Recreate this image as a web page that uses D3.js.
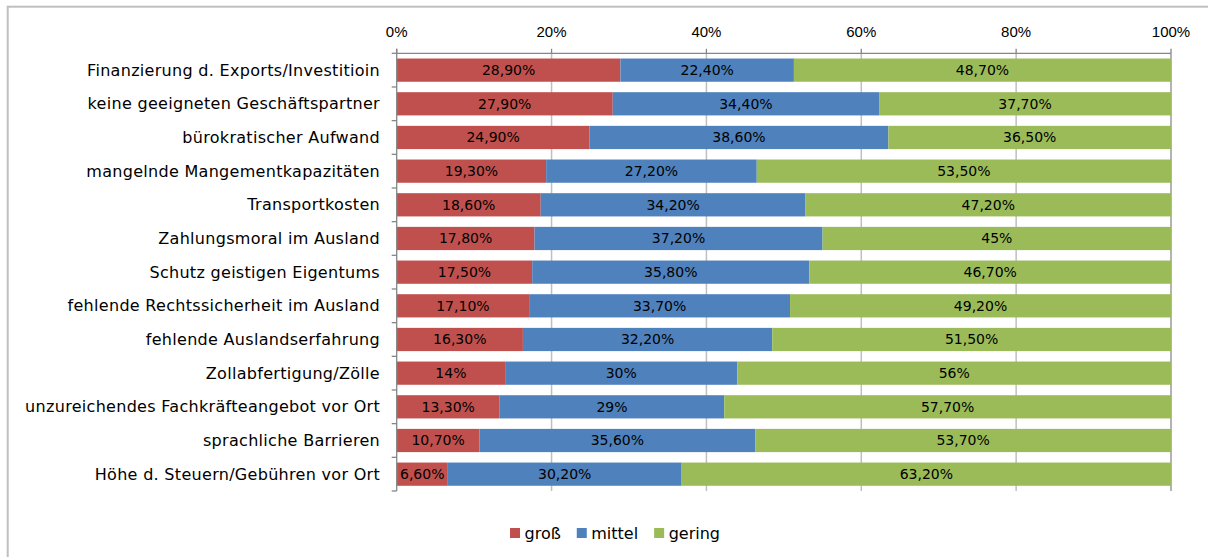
<!DOCTYPE html>
<html>
<head>
<meta charset="utf-8">
<script src="https://cdn.jsdelivr.net/npm/d3@7"></script>
<style>
  body { margin: 0; background: #fff; }
  .cat { font-family: "DejaVu Sans", sans-serif; font-size: 16px; letter-spacing: 0.3px; fill: #000; }
  .tick-label { font-family: "Liberation Sans", Arial, sans-serif; font-size: 15px; fill: #000; }
  .val { font-family: "DejaVu Sans", sans-serif; font-size: 14px; fill: #000; }
  .leg { font-family: "DejaVu Sans", sans-serif; font-size: 16px; fill: #000; }
</style>
</head>
<body>
<div id="chart"></div>
<script>
const categories = [
  "Finanzierung d. Exports/Investitioin",
  "keine geeigneten Geschäftspartner",
  "bürokratischer Aufwand",
  "mangelnde Mangementkapazitäten",
  "Transportkosten",
  "Zahlungsmoral im Ausland",
  "Schutz geistigen Eigentums",
  "fehlende Rechtssicherheit im Ausland",
  "fehlende Auslandserfahrung",
  "Zollabfertigung/Zölle",
  "unzureichendes Fachkräfteangebot vor Ort",
  "sprachliche Barrieren",
  "Höhe d. Steuern/Gebühren vor Ort"
];
const gross  = [28.9, 27.9, 24.9, 19.3, 18.6, 17.8, 17.5, 17.1, 16.3, 14, 13.3, 10.7, 6.6];
const mittel = [22.4, 34.4, 38.6, 27.2, 34.2, 37.2, 35.8, 33.7, 32.2, 30, 29, 35.6, 30.2];
const gering = [48.7, 37.7, 36.5, 53.5, 47.2, 45, 46.7, 49.2, 51.5, 56, 57.7, 53.7, 63.2];
const seriesNames = ["groß", "mittel", "gering"];
const ticks = [0, 20, 40, 60, 80, 100];

const colours = { "groß": "#C0504D", "mittel": "#4F81BD", "gering": "#9BBB59" };

const width = 1208;
const height = 557;

const svg = d3.select("#chart")
              .append("svg")
              .attr("width", width)
              .attr("height", height);

// chart area frame (runs off the right and bottom edge like in the screenshot)
svg.append("rect")
   .attr("x", 7.7)
   .attr("y", 6.7)
   .attr("width", 1300)
   .attr("height", 700)
   .attr("fill", "none")
   .attr("stroke", "#bfbfbf")
   .attr("stroke-width", 2);

const rows = categories.map((c, i) => ({ cat: c, "groß": gross[i], "mittel": mittel[i], "gering": gering[i] }));

const plotTop = 53.3, plotBottom = 491;

const x = d3.scaleLinear().domain([0, 100]).range([396.7, 1171]);
const y = d3.scaleBand().domain(categories).range([plotTop, plotBottom]).paddingInner(0.31).paddingOuter(0.155);

// vertical gridlines
svg.append("g")
   .selectAll("line")
   .data(ticks.slice(1))
   .enter()
   .append("line")
   .attr("x1", d => x(d)).attr("x2", d => x(d))
   .attr("y1", plotTop).attr("y2", plotBottom)
   .attr("stroke", d => d === 100 ? "#9a9a9a" : "#bfbfbf")
   .attr("stroke-width", 1.5);

// bars
const stacked = d3.stack().keys(seriesNames)(rows);

const layers = svg.selectAll(".layer")
                  .data(stacked)
                  .enter()
                  .append("g")
                  .attr("class", "layer")
                  .attr("fill", d => colours[d.key]);

layers.selectAll("rect")
      .data(d => d)
      .enter()
      .append("rect")
      .attr("x", d => x(d[0]))
      .attr("y", d => y(d.data.cat))
      .attr("width", d => x(d[1]) - x(d[0]))
      .attr("height", y.bandwidth());

function fmt(v){
  if(Number.isInteger(v)) return v + "%";
  return v.toFixed(2).replace(".", ",") + "%";
}

layers.selectAll("text")
      .data(d => d.map(p => ({ p: p, v: p.data[d.key] })))
      .enter()
      .append("text")
      .attr("class", "val")
      .attr("fill", "#000")
      .attr("text-anchor", "middle")
      .attr("x", d => (x(d.p[0]) + x(d.p[1])) / 2)
      .attr("y", d => y(d.p.data.cat) + y.bandwidth() / 2 + 5)
      .text(d => fmt(d.v));

// top axis
const axisG = svg.append("g").attr("transform", `translate(0, ${plotTop})`);
axisG.append("line")
     .attr("x1", x(0)).attr("x2", x(100))
     .attr("y1", 0).attr("y2", 0)
     .attr("stroke", "#868686").attr("stroke-width", 1.3);
axisG.selectAll(".tk")
     .data(ticks)
     .enter()
     .append("line")
     .attr("x1", d => x(d)).attr("x2", d => x(d))
     .attr("y1", -4.5).attr("y2", 0)
     .attr("stroke", "#868686").attr("stroke-width", 1.3);
axisG.selectAll(".tick-label")
     .data(ticks)
     .enter()
     .append("text")
     .attr("class", "tick-label")
     .attr("text-anchor", "middle")
     .attr("x", d => x(d))
     .attr("y", -16)
     .text(d => d + "%");

// left axis with ticks between categories
const leftG = svg.append("g");
leftG.append("line")
     .attr("x1", x(0)).attr("x2", x(0))
     .attr("y1", plotTop - 4.5).attr("y2", plotBottom)
     .attr("stroke", "#868686").attr("stroke-width", 1.3);
const step = y.step();
leftG.selectAll(".ct")
     .data(d3.range(categories.length + 1))
     .enter()
     .append("line")
     .attr("x1", x(0) - 5).attr("x2", x(0))
     .attr("y1", i => plotTop + i * step).attr("y2", i => plotTop + i * step)
     .attr("stroke", "#868686").attr("stroke-width", 1.3);
leftG.selectAll(".cat")
     .data(categories)
     .enter()
     .append("text")
     .attr("class", "cat")
     .attr("text-anchor", "end")
     .attr("x", 380)
     .attr("y", d => y(d) + y.bandwidth() / 2 + 5.5)
     .text(d => d);

// legend
const legend = svg.append("g");
let lx = 0;
seriesNames.forEach(name => {
  const g = legend.append("g");
  g.append("rect").attr("x", 0).attr("y", -10.5).attr("width", 10).attr("height", 10).attr("fill", colours[name]);
  const t = g.append("text").attr("class", "leg").attr("x", 14.5).attr("y", 0).text(name);
  const w = 14.5 + t.node().getComputedTextLength();
  g.attr("transform", `translate(${lx}, 0)`);
  lx += w + 16;
});
const legendWidth = lx - 16;
legend.attr("transform", `translate(${615 - legendWidth / 2}, 538.5)`);
</script>
</body>
</html>
